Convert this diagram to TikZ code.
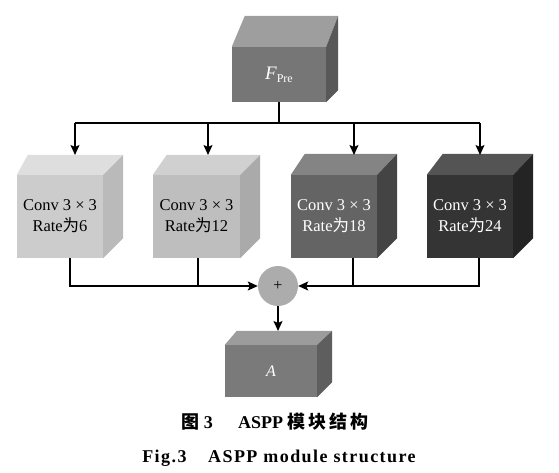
\documentclass[tikz,border=0pt]{standalone}
\usepackage{fontspec}
\setmainfont{Liberation Serif}
\newfontfamily\cjk{Noto Sans CJK SC}
\newfontfamily\cjkcap{Noto Sans CJK SC}[LetterSpace=12]
\newfontfamily\capfont{Liberation Serif}[LetterSpace=8]
\usetikzlibrary{arrows.meta,calc}

% cara superior y lateral de un bloque
\newcommand{\cubo}[7]{%
  \fill[#6] (#1.north west) -- ++(#2,-#4) -- ($(#1.north east)+(#3,-#4)$) -- (#1.north east) -- cycle;
  \fill[#7] (#1.north east) -- ++(#3,-#4) -- ($(#1.south east)+(#3,-#5)$) -- (#1.south east) -- cycle;
}

\definecolor{fpFront}{RGB}{118,118,118}
\definecolor{fpTop}{RGB}{158,158,158}
\definecolor{fpSide}{RGB}{88,88,88}
\definecolor{uaFront}{RGB}{204,204,204}
\definecolor{uaTop}{RGB}{222,222,222}
\definecolor{uaSide}{RGB}{186,186,186}
\definecolor{dosFront}{RGB}{190,190,190}
\definecolor{dosTop}{RGB}{208,208,208}
\definecolor{dosSide}{RGB}{170,170,170}
\definecolor{tresFront}{RGB}{100,100,100}
\definecolor{tresTop}{RGB}{132,132,132}
\definecolor{tresSide}{RGB}{68,68,68}
\definecolor{cuaFront}{RGB}{52,52,52}
\definecolor{cuaTop}{RGB}{84,84,84}
\definecolor{cuaSide}{RGB}{36,36,36}
\definecolor{aFront}{RGB}{122,122,122}
\definecolor{aTop}{RGB}{156,156,156}
\definecolor{aSide}{RGB}{94,94,94}
\definecolor{sumaGris}{RGB}{172,172,172}

\begin{document}
\begin{tikzpicture}[>={Stealth[length=10pt,width=9pt,inset=2pt]}, x=1pt, y=-1pt,
  cara/.style={rectangle, inner sep=0pt, minimum width=86pt, minimum height=83pt,
    align=center, font=\fontsize{16.5}{21}\selectfont},
  linea/.style={line width=1.3pt}]

\useasboundingbox (0,0) rectangle (559,473);

% Entrada
\node[cara, fill=fpFront, minimum width=94pt, minimum height=55pt, text=white] (fp) at (279,74.5)
  {\fontsize{19}{19}\selectfont{\itshape F}\raisebox{-3pt}{\fontsize{12}{12}\selectfont Pre}};
\cubo{fp}{13}{12}{31}{12}{fpTop}{fpSide}

% Convoluciones
\node[cara, fill=uaFront] (c1) at (60,216.5) {Conv 3 × 3\\Rate{\cjk 为}6};
\cubo{c1}{11}{20}{20}{20}{uaTop}{uaSide}
\node[cara, fill=dosFront, minimum width=87pt] (c2) at (196.5,216.5) {Conv 3 × 3\\Rate{\cjk 为}12};
\cubo{c2}{14}{20}{20}{20}{dosTop}{dosSide}
\node[cara, fill=tresFront, text=white] (c3) at (334,216.5) {Conv 3 × 3\\Rate{\cjk 为}18};
\cubo{c3}{14}{20}{21}{20}{tresTop}{tresSide}
\node[cara, fill=cuaFront, text=white] (c4) at (470,216.5) {Conv 3 × 3\\Rate{\cjk 为}24};
\cubo{c4}{16}{20}{21}{20}{cuaTop}{cuaSide}

% Suma y salida
\node[circle, fill=sumaGris, minimum size=40pt, inner sep=0pt, font=\fontsize{16}{16}\selectfont] (suma) at (278,286) {+};
\node[cara, fill=aFront, minimum width=92pt, minimum height=52pt, text=white] (A) at (271,371)
  {\fontsize{16}{16}\selectfont\itshape A};
\cubo{A}{12}{15}{14}{15}{aTop}{aSide}

% Puntos de los conectores
\coordinate (bus) at (279,123);
\coordinate (t1) at (75,155);
\coordinate (t2) at (208,155);
\coordinate (t3) at (354,155);
\coordinate (t4) at (480,155);
\coordinate (b1) at (70,258);
\coordinate (b2) at (198,258);
\coordinate (b3) at (353,258);
\coordinate (b4) at (479,258);
\coordinate (ta) at (278,331);

\draw[linea] (fp.south) -- (bus);
\draw[linea] (bus -| t1) -- (bus -| t4);
\foreach \t in {t1,t2,t3,t4}{
  \draw[linea,->] (bus -| \t) -- (\t);
}
\draw[linea,->] (b1) |- (suma.west);
\draw[linea] (b2) -- (b2 |- suma.west);
\draw[linea,->] (b4) |- (suma.east);
\draw[linea] (b3) -- (b3 |- suma.east);
\draw[linea,->] (suma.south) -- (ta);

% Pie de figura
\node[font=\fontsize{18}{18}\selectfont\bfseries] (cap1) at (275,422)
  {{\cjkcap 图}\ 3\hspace{1.4em}ASPP\ {\cjkcap 模\,块\,结\,构}};
\node[font=\fontsize{18}{18}\selectfont\bfseries\capfont] (cap2) at (279,458)
  {Fig.3\hspace{1.2em}ASPP module structure};

\end{tikzpicture}
\end{document}
